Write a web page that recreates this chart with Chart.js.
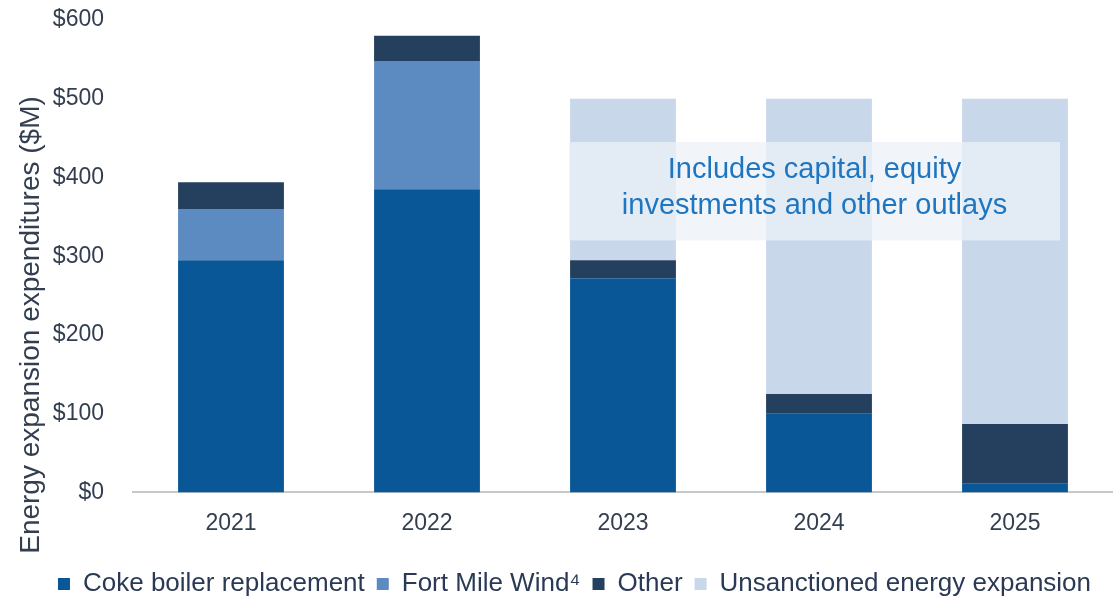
<!DOCTYPE html>
<html>
<head>
<meta charset="utf-8">
<script src="https://cdn.jsdelivr.net/npm/chart.js@4/dist/chart.umd.min.js"></script>
<style>
  html, body { margin: 0; padding: 0; background: #fff; }
  #wrap { width: 1113px; height: 601px; }
</style>
</head>
<body>
<div id="wrap"><canvas id="capex"></canvas></div>
<script>
const years = ['2021', '2022', '2023', '2024', '2025'];
const cokeBoiler = [295, 385, 272, 100, 11];
const fortMileWind = [65, 163, 0, 0, 0];
const other = [34, 32, 23, 25, 76];
const unsanctioned = [0, 0, 205, 375, 413];
const yTicks = [0, 100, 200, 300, 400, 500, 600];
const yTitle = 'Energy expansion expenditures ($M)';
const noteLines = ['Includes capital, equity', 'investments and other outlays'];

document.addEventListener('DOMContentLoaded', () => {
    const FONT = '"Liberation Sans", Arial, sans-serif';

    // semi-transparent note box over the projected years + the y title
    const extras = {
        id: 'extras',
        afterDatasetsDraw(chart) {
            const { ctx, scales: { x, y } } = chart;
            const left = x.getPixelForValue(2) - 54;
            const right = x.getPixelForValue(4) + 45;
            const top = y.getPixelForValue(445);
            const bottom = y.getPixelForValue(320);
            ctx.save();
            ctx.fillStyle = 'rgba(236, 241, 248, 0.75)';
            ctx.fillRect(left, top, right - left, bottom - top);
            ctx.fillStyle = '#1f76c0';
            ctx.font = '29px ' + FONT;
            ctx.textAlign = 'center';
            ctx.textBaseline = 'middle';
            const cx = (left + right) / 2;
            ctx.fillText(noteLines[0], cx, top + 28);
            ctx.fillText(noteLines[1], cx, top + 64);
            ctx.restore();

            ctx.save();
            ctx.translate(31, 325);
            ctx.rotate(-Math.PI / 2);
            ctx.fillStyle = '#333f50';
            ctx.font = '28px ' + FONT;
            ctx.textAlign = 'center';
            ctx.textBaseline = 'middle';
            ctx.fillText(yTitle, 0, 0);
            ctx.restore();
        }
    };

    const ctx = document.getElementById('capex').getContext('2d');
    window.capexChart = new Chart(ctx, {
        type: 'bar',
        data: {
            labels: years,
            datasets: [
                { label: 'Coke boiler replacement', data: cokeBoiler, backgroundColor: '#0a5797' },
                { label: 'Fort Mile Wind\u2074', data: fortMileWind, backgroundColor: '#5b8bc0' },
                { label: 'Other', data: other, backgroundColor: '#253f5e' },
                { label: 'Unsanctioned energy expansion', data: unsanctioned, backgroundColor: '#c8d7ea' }
            ].map((ds) => ({
                ...ds,
                barPercentage: 0.54,
                categoryPercentage: 1,
                borderWidth: 0
            }))
        },
        options: {
            responsive: true,
            maintainAspectRatio: false,
            animation: false,
            layout: { padding: { left: 36, right: 0, top: 4, bottom: -6 } },
            scales: {
                x: {
                    stacked: true,
                    grid: { display: false },
                    border: { color: '#c8c8c8', width: 2 },
                    ticks: { color: '#333f50', font: { family: FONT, size: 23 }, padding: 9 },
                    afterFit: (axis) => { axis.height += 13; }
                },
                y: {
                    stacked: true,
                    min: 0,
                    max: 600,
                    afterBuildTicks: (axis) => { axis.ticks = yTicks.map((v) => ({ value: v })); },
                    afterFit: (axis) => { axis.width = 97; axis.paddingTop = 20; axis.paddingBottom = 0; },
                    grid: { display: false },
                    border: { display: false },
                    ticks: {
                        color: '#333f50',
                        font: { family: FONT, size: 23 },
                        padding: 21,
                        callback: (v) => '$' + v
                    }
                }
            },
            plugins: {
                legend: {
                    position: 'bottom',
                    labels: {
                        color: '#2a3a55',
                        font: { family: FONT, size: 26 },
                        boxWidth: 12,
                        boxHeight: 12,
                        padding: 12
                    }
                },
                tooltip: { enabled: false }
            }
        },
        plugins: [extras]
    });
});
</script>
</body>
</html>
